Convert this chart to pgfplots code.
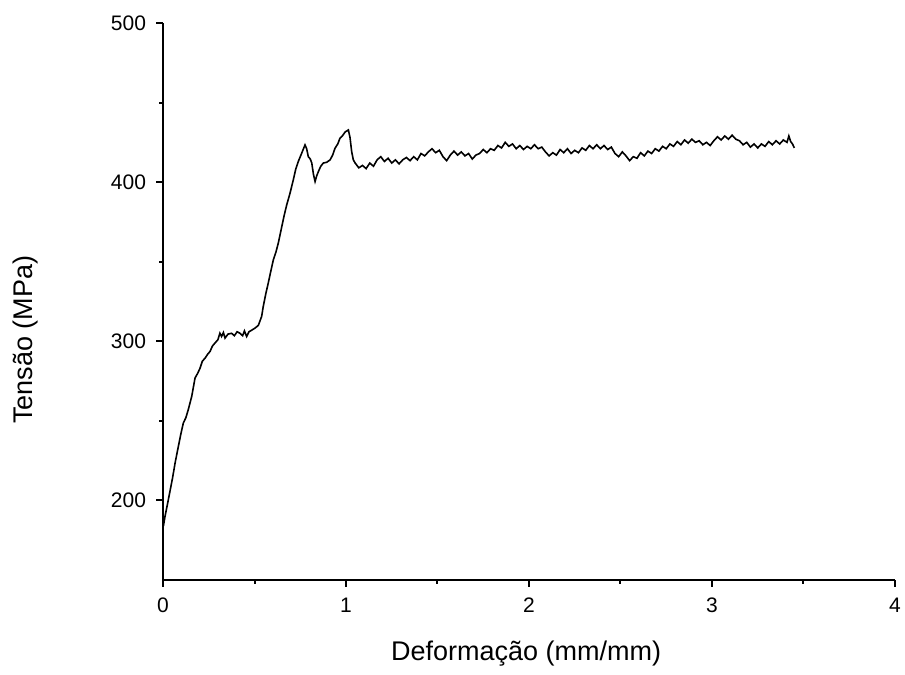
\documentclass[border=0pt]{standalone}
\usepackage{pgfplots}
\pgfplotsset{compat=1.18}
\usepackage{fontspec}
\setmainfont{Liberation Sans}
\newcommand{\tickfont}{\fontsize{10.5}{12}\selectfont}

\begin{document}
\begin{tikzpicture}
\begin{axis}[
    scale only axis,
    width=366pt, height=278.5pt,
    xmin=0, xmax=4, ymin=150, ymax=500,
    axis lines*=left,
    axis line style={line width=1pt},
    xtick={0,1,2,3,4}, ytick={200,300,400,500},
    minor tick num=1,
    tick align=outside,
    major tick length=3.5pt, minor tick length=2pt,
    every tick/.style={black, line width=1pt},
    xticklabel={\tickfont\pgfmathprintnumber{\tick}},
    yticklabel={\tickfont\pgfmathprintnumber{\tick}},
    xticklabel style={yshift=-2pt},
    yticklabel style={xshift=-1.5pt},
    /pgf/number format/assume math mode=true,
    xlabel={Deformação (mm/mm)},
    ylabel={Tensão (MPa)},
    label style={font=\fontsize{13.5}{16}\selectfont},
    xlabel style={at={(rel axis cs:0.496,-0.1329)}, anchor=center},
    ylabel style={at={(rel axis cs:-0.1885,0.431)}, anchor=center},
    clip=false,
]
\addplot[black, line width=0.8pt] coordinates {
(0.002,183.7) (0.011,190) (0.025,198) (0.038,205.7) (0.052,214) (0.066,223.5)
(0.084,234) (0.098,242) (0.111,248.6) (0.125,252) (0.138,257) (0.157,265.4)
(0.175,276.9) (0.19,280) (0.202,283) (0.215,287.5) (0.230,289.4) (0.245,292)
(0.257,293.6) (0.27,297) (0.284,298.9) (0.30,301) (0.311,305.1) (0.32,303)
(0.33,305.5) (0.339,302) (0.355,304.5) (0.375,305) (0.39,303.5) (0.405,306)
(0.421,305) (0.435,303.5) (0.445,306.5) (0.457,303) (0.47,306) (0.485,307)
(0.503,308.3) (0.521,310) (0.539,315.6) (0.548,322) (0.562,330) (0.575,336.5)
(0.589,344) (0.603,351.2) (0.617,356) (0.630,361.7) (0.649,372) (0.662,379)
(0.676,385.7) (0.694,393) (0.712,401.4) (0.725,408) (0.739,412.9) (0.758,418.2)
(0.776,423.4) (0.785,421) (0.794,416) (0.805,414.5) (0.813,412) (0.822,405)
(0.831,400.4) (0.840,404) (0.849,406.6) (0.862,410) (0.876,412) (0.895,412.5)
(0.913,414) (0.927,417) (0.940,421.3) (0.955,424) (0.967,427.6) (0.980,429)
(0.995,431.5) (1.013,432.8) (1.022,428) (1.031,419.2) (1.040,414)
(1.05,412) (1.07,409) (1.09,410.5) (1.11,408.5) (1.13,412) (1.15,410) (1.17,414)
(1.19,416) (1.21,413) (1.23,415) (1.25,412) (1.27,414) (1.29,411.5) (1.31,414)
(1.33,415.5) (1.35,413.5) (1.37,416) (1.39,414) (1.41,418) (1.43,416.5)
(1.45,419) (1.47,421) (1.49,418.5) (1.51,420) (1.53,416) (1.55,413.5)
(1.57,417) (1.59,419.5) (1.61,417) (1.63,419) (1.65,416.5) (1.67,418)
(1.69,414.5) (1.71,417) (1.73,418) (1.75,420.5) (1.77,418.5) (1.79,421)
(1.81,420) (1.83,423) (1.85,421.5) (1.87,425) (1.89,422.5) (1.91,424)
(1.93,421) (1.95,423) (1.97,420.5) (1.99,422.5) (2.01,421) (2.03,423.5)
(2.05,421) (2.07,422) (2.09,419) (2.11,416.5) (2.13,418.5) (2.15,417)
(2.17,420.5) (2.19,418.5) (2.21,421) (2.23,418) (2.25,420) (2.27,418.5)
(2.29,421.5) (2.31,420) (2.33,423) (2.35,421) (2.37,423.5) (2.39,421)
(2.41,423) (2.43,420.5) (2.45,422) (2.47,418) (2.49,416) (2.51,419)
(2.53,416.5) (2.55,413.5) (2.57,416) (2.59,415) (2.61,418.5) (2.63,416.5)
(2.65,419.5) (2.67,418) (2.69,421) (2.71,419.5) (2.73,422.5) (2.75,421)
(2.77,424) (2.79,422.5) (2.81,425.5) (2.83,423.5) (2.85,426.5) (2.87,424.5)
(2.89,427) (2.91,425) (2.93,426) (2.95,423.5) (2.97,425) (2.99,423)
(3.01,426) (3.03,428.5) (3.05,426.5) (3.07,429) (3.09,427) (3.11,429.5)
(3.13,427) (3.15,426) (3.17,423.5) (3.19,425) (3.21,422) (3.23,424)
(3.25,421.5) (3.27,424) (3.29,422.5) (3.31,425.5) (3.33,423.5) (3.35,426)
(3.37,424) (3.39,426.5) (3.41,425) (3.42,429) (3.43,425.5) (3.44,424)
(3.45,421.5)
};
\coordinate (bl) at (rel axis cs:-0.2227,-0.1706);
\coordinate (tr) at (rel axis cs:1.0137,1.0413);
\end{axis}
\pgfresetboundingbox
\useasboundingbox (bl) rectangle (tr);
\end{tikzpicture}
\end{document}
